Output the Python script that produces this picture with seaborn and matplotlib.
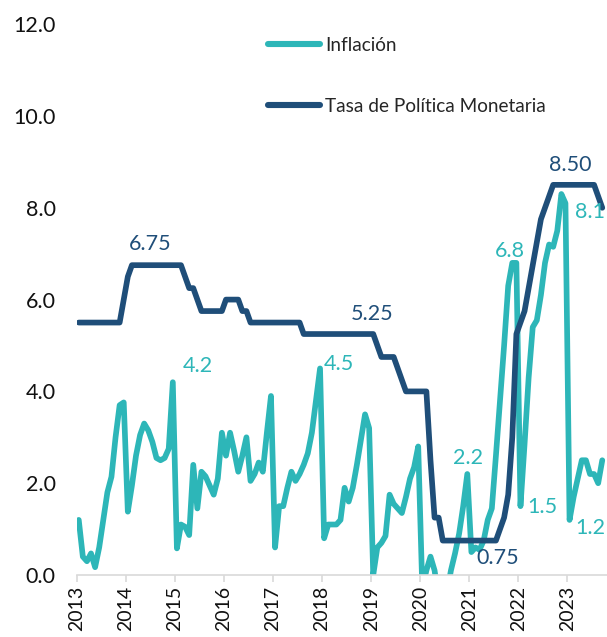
import numpy as np
import pandas as pd
import matplotlib
matplotlib.use("Agg")
import matplotlib.pyplot as plt
from matplotlib.lines import Line2D
import seaborn as sns

# ---------------- data ----------------
start_month = "2013-01-01"
years = list(range(2013, 2024))

inflacion = [
    1.2, 0.4, 0.3, 0.47, 0.17, 0.6, 1.2, 1.8, 2.14, 3.0, 3.7, 3.76,      # 2013
    1.38, 1.95, 2.6, 3.05, 3.3, 3.15, 2.9, 2.55, 2.5, 2.55, 2.75, 4.2,   # 2014
    0.58, 1.1, 1.05, 0.87, 2.4, 1.45, 2.25, 2.15, 1.95, 1.75, 2.1, 3.1,  # 2015
    2.6, 3.1, 2.7, 2.25, 2.6, 3.0, 2.05, 2.2, 2.45, 2.25, 3.1, 3.9,      # 2016
    0.6, 1.5, 1.5, 1.9, 2.25, 2.05, 2.2, 2.4, 2.65, 3.1, 3.8, 4.5,       # 2017
    0.8, 1.1, 1.1, 1.1, 1.2, 1.9, 1.6, 1.9, 2.4, 2.95, 3.5, 3.2,         # 2018
    0.0, 0.6, 0.7, 0.85, 1.75, 1.55, 1.45, 1.35, 1.7, 2.1, 2.35, 2.8,    # 2019
    -0.3, 0.1, 0.4, 0.1, -0.5, -0.6, -0.4, 0.1, 0.47, 0.9, 1.5, 2.2,     # 2020
    0.5, 0.6, 0.55, 0.75, 1.2, 1.45, 2.6, 3.8, 5.0, 6.3, 6.8, 6.8,       # 2021
    1.5, 2.85, 4.3, 5.4, 5.55, 6.1, 6.8, 7.2, 7.15, 7.5, 8.3, 8.1,       # 2022
    1.2, 1.7, 2.1, 2.5, 2.5, 2.2, 2.2, 2.0, 2.5,                         # 2023
]

tasa_pm = [
    5.5, 5.5, 5.5, 5.5, 5.5, 5.5, 5.5, 5.5, 5.5, 5.5, 5.5, 6.0,          # 2013
    6.5, 6.75, 6.75, 6.75, 6.75, 6.75, 6.75, 6.75, 6.75, 6.75, 6.75, 6.75,  # 2014
    6.75, 6.75, 6.5, 6.25, 6.25, 6.0, 5.75, 5.75, 5.75, 5.75, 5.75, 5.75,  # 2015
    6.0, 6.0, 6.0, 6.0, 5.75, 5.75, 5.5, 5.5, 5.5, 5.5, 5.5, 5.5,        # 2016
    5.5, 5.5, 5.5, 5.5, 5.5, 5.5, 5.5, 5.25, 5.25, 5.25, 5.25, 5.25,     # 2017
    5.25, 5.25, 5.25, 5.25, 5.25, 5.25, 5.25, 5.25, 5.25, 5.25, 5.25, 5.25,  # 2018
    5.25, 5.0, 4.75, 4.75, 4.75, 4.75, 4.5, 4.25, 4.0, 4.0, 4.0, 4.0,    # 2019
    4.0, 4.0, 2.5, 1.25, 1.25, 0.75, 0.75, 0.75, 0.75, 0.75, 0.75, 0.75,  # 2020
    0.75, 0.75, 0.75, 0.75, 0.75, 0.75, 0.75, 1.0, 1.25, 1.75, 3.0, 5.25,  # 2021
    5.5, 5.75, 6.25, 6.75, 7.25, 7.75, 8.0, 8.25, 8.5, 8.5, 8.5, 8.5,    # 2022
    8.5, 8.5, 8.5, 8.5, 8.5, 8.5, 8.5, 8.25, 8.0,                        # 2023
]

series_names = ["Inflación", "Tasa de Política Monetaria"]
colors = ["#2DB6B8", "#1F4E79"]

# (index, text, dx_px, dy_px)
labels_inf = [(23, "4.2", 25, 16), (59, "4.5", 19, 4), (95, "2.2", 1, 16),
              (107, "6.8", -6, 12), (108, "1.5", 22, -1), (119, "8.1", 25, -9),
              (120, "1.2", 21, -8)]
labels_tpm = [(17, "6.75", 2, 21), (71, "5.25", 3, 20), (120, "8.50", 1, 20),
              (102, "0.75", 2, -17)]

# ---------------- frame ----------------
n = len(inflacion)
dates = pd.date_range(start_month, periods=n, freq="MS")
xpos = dates.year + (dates.month - 0.5) / 12.0
df = pd.concat([
    pd.DataFrame({"x": xpos, "valor": inflacion, "serie": series_names[0]}),
    pd.DataFrame({"x": xpos, "valor": tasa_pm, "serie": series_names[1]}),
])

sns.set_theme(style="white")
plt.rcParams["font.family"] = ["Lato", "DejaVu Sans"]

W, H = 607, 637
fig = plt.figure(figsize=(W / 100, H / 100), dpi=100)
ax = fig.add_axes([76.7 / W, (H - 575) / H, (W - 76.7) / W, (575 - 24.2) / H])

sns.lineplot(data=df, x="x", y="valor", hue="serie", hue_order=series_names,
             palette=colors, linewidth=4.1, legend=False, ax=ax,
             solid_joinstyle="round", solid_capstyle="round", sort=False)

ax.set_xlim(2013, 2013 + (W - 76.7) / 49.08)
ax.set_ylim(0, 12)
ax.set_xlabel("")
ax.set_ylabel("")

FS = 15.5
ax.set_xticks(years)
ax.set_xticklabels([str(y) for y in years], rotation=90, fontsize=14, color="#111111")
ax.set_yticks(np.arange(0, 12.1, 2))
ax.set_yticklabels([f"{v:.1f}" for v in np.arange(0, 12.1, 2)], fontsize=FS, color="#111111")
ax.tick_params(axis="y", length=0, pad=15)
ax.tick_params(axis="x", length=5, width=1.2, color="#D9D9D9", pad=3, direction="out")
ax.tick_params(axis="x", which="both", bottom=True)

for s in ["left", "top", "right"]:
    ax.spines[s].set_visible(False)
ax.spines["bottom"].set_color("#D9D9D9")
ax.spines["bottom"].set_linewidth(1.2)
ax.grid(False)

def add_labels(values, specs, color):
    for idx, txt, dx, dy in specs:
        ax.annotate(txt, xy=(xpos[idx], values[idx]), xytext=(dx, dy),
                    textcoords="offset pixels", ha="center", va="center",
                    fontsize=FS, color=color, annotation_clip=False)

add_labels(inflacion, labels_inf, colors[0])
add_labels(tasa_pm, labels_tpm, colors[1])

handles = [Line2D([0], [0], color=c, lw=4.4, solid_capstyle="round") for c in colors]
fig.legend(handles, series_names, loc="upper left",
           bbox_to_anchor=(268 / W, 1 - 37 / H), bbox_transform=fig.transFigure,
           frameon=False, fontsize=13.7, handlelength=2.75, handletextpad=0.25,
           labelspacing=2.3, borderpad=0, borderaxespad=0)

fig.savefig("out.png", dpi=100)
